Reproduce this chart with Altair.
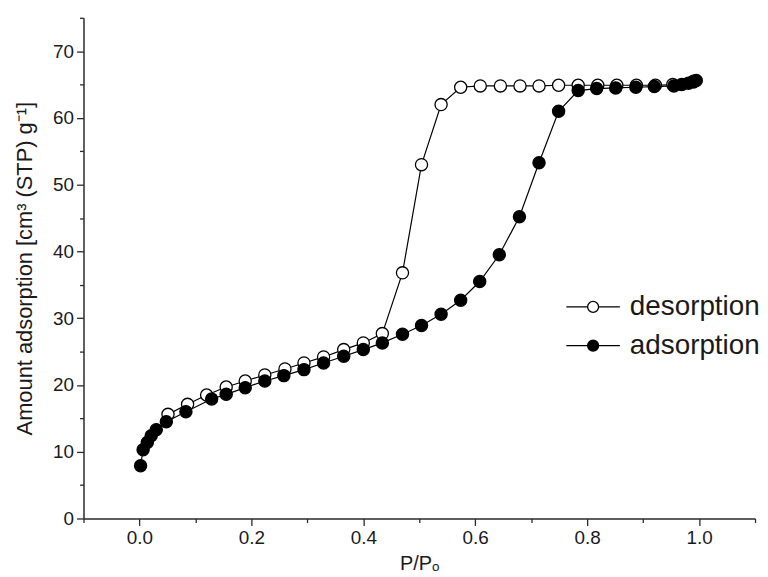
import altair as alt
import pandas as pd

# ---- data ----
ads_x = [0.002, 0.0065, 0.014, 0.021, 0.030, 0.048, 0.083, 0.129, 0.155, 0.189,
         0.224, 0.258, 0.294, 0.329, 0.365, 0.400, 0.434, 0.470, 0.504, 0.539,
         0.574, 0.608, 0.643, 0.679, 0.714, 0.749, 0.784, 0.817, 0.851, 0.887,
         0.920, 0.955, 0.969, 0.981, 0.990, 0.995]
ads_y = [7.9, 10.3, 11.4, 12.4, 13.3, 14.5, 16.0, 17.9, 18.6, 19.6,
         20.6, 21.4, 22.3, 23.3, 24.3, 25.3, 26.3, 27.6, 28.9, 30.6,
         32.7, 35.5, 39.5, 45.2, 53.3, 61.0, 64.1, 64.4, 64.5, 64.6,
         64.7, 64.8, 65.0, 65.2, 65.4, 65.6]

des_x = [0.051, 0.086, 0.120, 0.155, 0.189, 0.224, 0.260, 0.294, 0.329, 0.365,
         0.400, 0.434, 0.470, 0.504, 0.539, 0.574, 0.609, 0.645, 0.680, 0.714,
         0.749, 0.784, 0.819, 0.853, 0.888, 0.922, 0.953, 0.990]
des_y = [15.6, 17.1, 18.5, 19.7, 20.6, 21.5, 22.4, 23.3, 24.2, 25.3,
         26.3, 27.7, 36.8, 53.0, 62.0, 64.6, 64.8, 64.8, 64.8, 64.8,
         64.9, 64.9, 64.9, 64.9, 64.9, 64.9, 65.0, 65.5]

series_names = ["desorption", "adsorption"]
x_ticks = [-0.1, 0.0, 0.1, 0.2, 0.3, 0.4, 0.5, 0.6, 0.7, 0.8, 0.9, 1.0, 1.1]
y_ticks = [0, 5, 10, 15, 20, 25, 30, 35, 40, 45, 50, 55, 60, 65, 70, 75]

df = pd.concat([
    pd.DataFrame({"x": des_x, "y": des_y, "series": series_names[0]}),
    pd.DataFrame({"x": ads_x, "y": ads_y, "series": series_names[1]}),
], ignore_index=True)

FONT = "Liberation Sans"
TXT = "#1a1a1a"
AX = "#2a2a2a"

x_enc = alt.X(
    "x:Q",
    scale=alt.Scale(domain=[-0.1, 1.1], nice=False, zero=False),
    axis=alt.Axis(
        title="P/P\u2092",
        titleFontSize=20,
        values=x_ticks,
        labelExpr="round(datum.value*10) % 2 == 0 ? format(datum.value, '.1f') : ''",
        tickSize={"condition": {"test": "round(datum.value*10) % 2 == 0", "value": 7}, "value": 4},
        grid=False,
        labelPadding=3,
        titlePadding=6,
    ),
)
y_enc = alt.Y(
    "y:Q",
    scale=alt.Scale(domain=[0, 75], nice=False),
    axis=alt.Axis(
        title="Amount adsorption [cm\u00b3 (STP) g\u207b\u00b9]",
        titleFontSize=22,
        values=y_ticks,
        labelExpr="datum.value % 10 == 0 ? datum.label : ''",
        tickSize={"condition": {"test": "datum.value % 10 == 0", "value": 7}, "value": 4},
        grid=False,
        labelPadding=3,
        titlePadding=16,
    ),
)

legend_path = ("M-4.9,0H-1 M1,0H4.9 M1,0 A1,1 0 1,1 -1,0 A1,1 0 1,1 1,0 Z")

base = alt.Chart(df)

lines = base.mark_line(color="black", strokeWidth=1.2).encode(
    x=x_enc, y=y_enc, detail="series:N", order="x:Q"
)

points = base.mark_point(filled=True, size=150, stroke="black", strokeWidth=1.3, opacity=1).encode(
    x=x_enc,
    y=y_enc,
    fill=alt.Fill(
        "series:N",
        scale=alt.Scale(domain=series_names, range=["white", "black"]),
        sort=series_names,
        legend=alt.Legend(
            title=None,
            orient="none",
            legendX=499,
            legendY=277,
            symbolType=legend_path,
            symbolSize=121,
            symbolStrokeColor="black",
            symbolStrokeWidth=1.3,
            labelFont=FONT,
            labelFontSize=28,
            labelColor=TXT,
            labelOffset=23,
            rowPadding=11,
            padding=0,
        ),
    ),
)

chart = alt.layer(lines, points).properties(
    width=676,
    height=504,
    padding={"left": 5, "top": 7, "right": 0, "bottom": 0},
).configure_view(stroke=None).configure_axis(
    labelFont=FONT,
    titleFont=FONT,
    labelFontSize=19,
    titleFontWeight="normal",
    labelColor=TXT,
    titleColor=TXT,
    domainColor=AX,
    tickColor=AX,
    domainWidth=1.5,
    tickWidth=1.3,
)

chart.save("out.html", embed_options={"renderer": "svg", "actions": False})
